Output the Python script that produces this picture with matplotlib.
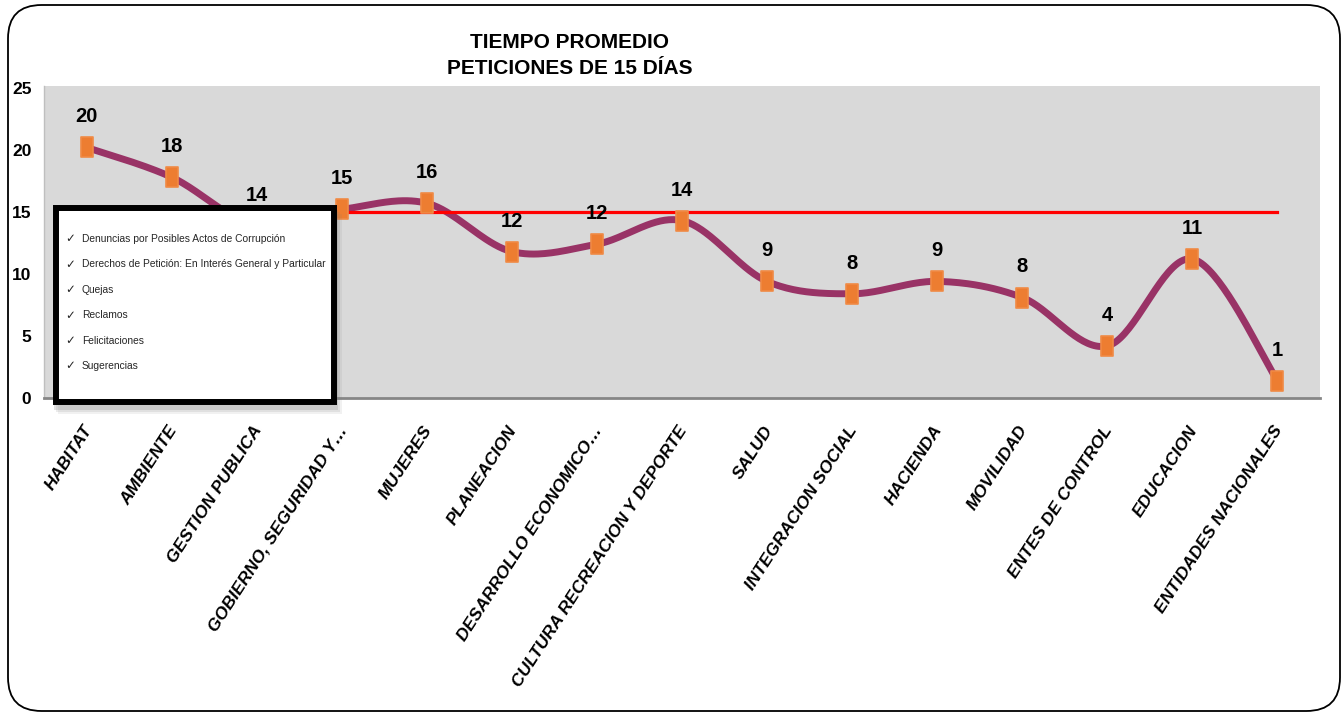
import numpy as np
import matplotlib
matplotlib.use("Agg")
import matplotlib.pyplot as plt
from matplotlib.path import Path
from matplotlib.patches import FancyBboxPatch, Rectangle
from matplotlib.transforms import ScaledTranslation

# Tiempo promedio de respuesta por sector (días)
sectores = ['HABITAT', 'AMBIENTE', 'GESTION PUBLICA', 'GOBIERNO, SEGURIDAD Y…',
            'MUJERES', 'PLANEACION', 'DESARROLLO ECONOMICO…',
            'CULTURA RECREACION Y DEPORTE', 'SALUD', 'INTEGRACION SOCIAL',
            'HACIENDA', 'MOVILIDAD', 'ENTES DE CONTROL', 'EDUCACION',
            'ENTIDADES NACIONALES']
dias = [20.2, 17.8, 13.9, 15.2, 15.7, 11.8, 12.4, 14.3, 9.4, 8.4, 9.4, 8.1, 4.2, 11.2, 1.4]
limite = 15
tipos = ['Denuncias por Posibles Actos de Corrupción',
         'Derechos de Petición: En Interés General y Particular',
         'Quejas', 'Reclamos', 'Felicitaciones', 'Sugerencias']

NARROW = ['Liberation Sans Narrow', 'Liberation Sans', 'DejaVu Sans']
W, H = 1343, 714


def fx(x):
    return x / W


def fy(y):
    return 1 - y / H


def suavizar(xs, ys, n=40):
    # curva suavizada tipo Excel (Bezier con tangentes de Catmull-Rom)
    p = np.column_stack([xs, ys]).astype(float)
    p = np.vstack([p[0], p, p[-1]])
    t = np.linspace(0, 1, n)[:, None]
    out = []
    for i in range(1, len(p) - 2):
        p0, p3 = p[i], p[i + 1]
        p1 = p0 + (p[i + 1] - p[i - 1]) / 6
        p2 = p3 - (p[i + 2] - p[i]) / 6
        seg = (1 - t) ** 3 * p0 + 3 * (1 - t) ** 2 * t * p1 + 3 * (1 - t) * t ** 2 * p2 + t ** 3 * p3
        out.append(seg)
    out = np.vstack(out)
    return out[:, 0], out[:, 1]


fig = plt.figure(figsize=(W / 100, H / 100), dpi=100)
ax = fig.add_axes([fx(44), fy(398), fx(1320 - 44), (398 - 86) / H])
ax.set_facecolor('#D9D9D9')

x = np.arange(len(sectores))
sx, sy = suavizar(x, dias)
ax.plot(sx, sy, color='#993366', lw=5, solid_capstyle='round', zorder=2)
ax.plot([x[0], x[-1]], [limite, limite], color='#FF0000', lw=2.3, zorder=3)

rect = Path([(-0.32, -0.5), (0.32, -0.5), (0.32, 0.5), (-0.32, 0.5), (-0.32, -0.5)],
            [Path.MOVETO, Path.LINETO, Path.LINETO, Path.LINETO, Path.CLOSEPOLY])
ax.plot(x, dias, ls='none', marker=rect, markersize=14.5, color='#ED7D31',
        markeredgecolor='#F08A45', markeredgewidth=1.2, zorder=4)

for xi, v in zip(x, dias):
    ax.annotate(f'{v:.0f}', (xi, v), xytext=(0, 22), textcoords='offset points',
                ha='center', va='center', fontsize=14.5, fontweight='bold',
                family=NARROW, color='black', zorder=5)

ax.set_xlim(-0.5, len(sectores) - 0.5)
ax.set_ylim(0, 25.15)
ax.set_yticks([0, 5, 10, 15, 20, 25])
ax.tick_params(axis='y', length=0, pad=9)
for lab in ax.get_yticklabels():
    lab.set_fontfamily(NARROW)
    lab.set_fontsize(12.5)
    lab.set_fontweight('bold')

ax.set_xticks(x)
ax.set_xticklabels(sectores, rotation=57, ha='right', va='center',
                   rotation_mode='anchor', fontsize=12.5, fontweight='bold',
                   fontstyle='italic', family=['Liberation Sans', 'DejaVu Sans'])
ax.tick_params(axis='x', length=0, pad=21)
shift = ScaledTranslation(2 / 100, 0, fig.dpi_scale_trans)
for lab in ax.get_xticklabels():
    lab.set_transform(lab.get_transform() + shift)

for s in ['top', 'right']:
    ax.spines[s].set_visible(False)
ax.spines['left'].set_color('#BFBFBF')
ax.spines['left'].set_linewidth(1)
ax.spines['bottom'].set_color('#868686')
ax.spines['bottom'].set_linewidth(2)

# titulo
fig.text(fx(570), fy(55.5), 'TIEMPO PROMEDIO\nPETICIONES DE 15 DÍAS', ha='center',
         va='center', fontsize=15, fontweight='bold', family=NARROW,
         linespacing=1.4)

# recuadro con los tipos de peticion
for off, a in [(9, 0.10), (7, 0.15), (5, 0.22)]:
    fig.patches.append(Rectangle((fx(53 + off - 4), fy(405 + off)), (337 - 53) / W,
                                 (405 - 205) / H, transform=fig.transFigure,
                                 facecolor='#7F7F7F', edgecolor='none', alpha=a,
                                 zorder=5))
fig.patches.append(Rectangle((fx(56), fy(402)), (334 - 56) / W,
                             (402 - 208) / H, transform=fig.transFigure,
                             facecolor='white', edgecolor='black', lw=4.3,
                             zorder=6))
for i, t in enumerate(tipos):
    yy = 239 + i * 25.4
    fig.text(fx(70), fy(yy), '✓', ha='center', va='center', fontsize=8.5,
             color='#262626', zorder=7)
    fig.text(fx(82), fy(yy), t, ha='left', va='center', fontsize=7.4,
             family=NARROW, color='#262626', zorder=7)

# marco exterior redondeado
fig.patches.append(FancyBboxPatch((fx(8), fy(711)), fx(1340 - 8), (711 - 5) / H,
                                  boxstyle='round,pad=0,rounding_size=0.025',
                                  transform=fig.transFigure, facecolor='none',
                                  edgecolor='black', lw=1.3, zorder=8,
                                  mutation_aspect=W / H))

fig.savefig('out.png', dpi=100)
